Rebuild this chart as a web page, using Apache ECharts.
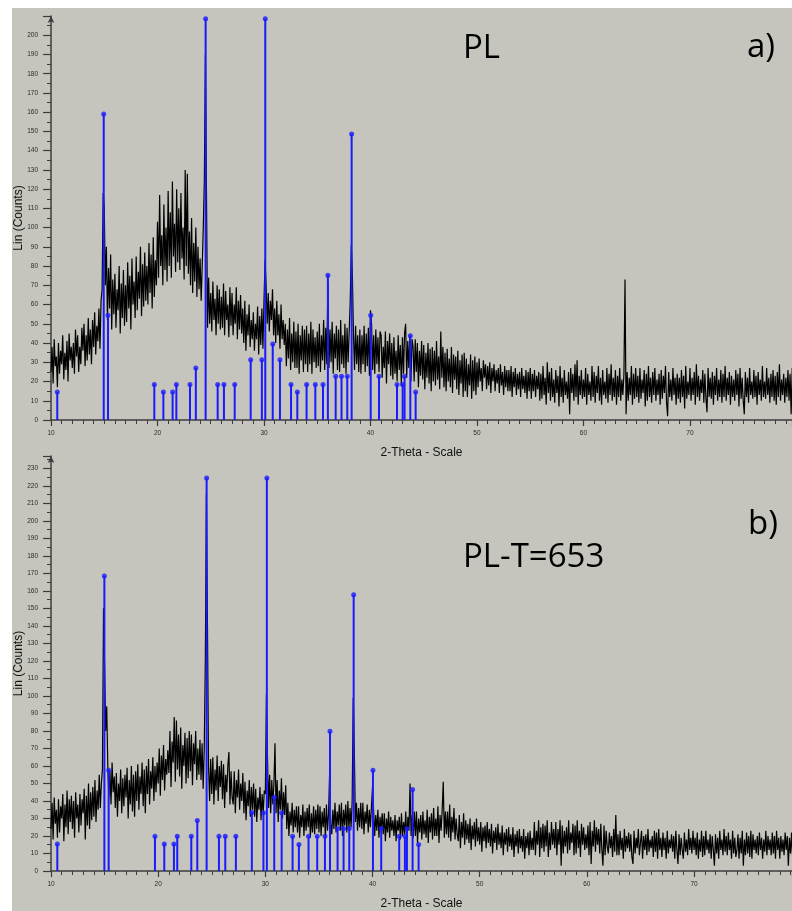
<!DOCTYPE html>
<html>
<head>
<meta charset="utf-8">
<script src="https://cdn.jsdelivr.net/npm/echarts@6/dist/echarts.min.js"></script>
<style>
  html, body { margin: 0; padding: 0; background: #ffffff; }
  #bg { position: absolute; left: 12px; top: 8px; width: 780px; height: 903px; background: #c5c5bd; }
  #chart { position: absolute; left: 0; top: 0; width: 792px; height: 911px; }
</style>
</head>
<body>
<div id="bg"></div>
<div id="chart"></div>
<script>
// Measurement grid (2-Theta start and step size of the scan)
const twoThetaStart = 10;
const twoThetaStep = 0.1;

// Panel a) PL : measured counts, one row per degree (x.0 ... x.9)
const countsA = [
  25,38,19,42,28,33,17,40,24,36,
  29,44,21,35,26,41,20,45,31,38,
  27,40,24,47,33,44,25,38,29,48,
  36,50,28,44,31,53,34,47,29,52,
  38,56,34,49,41,58,37,62,68,118,
  111,70,90,52,79,58,86,47,73,55,
  76,48,68,57,80,45,71,53,78,49,
  70,51,82,58,75,47,84,60,72,53,
  85,57,77,63,90,54,81,59,87,62,
  80,60,92,66,86,58,95,64,83,70,
  103,74,117,80,96,70,112,78,100,72,
  119,80,108,74,124,85,102,77,120,82,
  110,78,118,84,100,73,130,80,128,76,
  98,70,105,66,92,72,100,64,90,68,
  84,62,80,100,125,190,118,48,74,50,
  66,46,72,52,63,44,70,50,68,47,
  64,48,71,44,67,52,60,43,69,49,
  66,44,60,50,69,42,62,47,65,45,
  58,40,62,36,55,44,60,38,52,42,
  56,36,50,42,59,34,54,39,58,37,
  62,83,70,50,66,46,62,52,68,44,
  58,40,62,44,55,37,60,42,52,39,
  50,28,47,32,53,26,45,30,51,27,
  46,27,50,24,44,31,49,25,47,29,
  49,25,45,29,51,24,47,30,43,27,
  46,28,50,25,44,31,52,26,48,29,
  72,27,47,30,51,24,45,32,49,26,
  47,25,52,29,44,27,50,24,48,30,
  46,62,91,75,45,26,49,29,44,25,
  47,24,44,29,49,25,45,28,48,23,
  57,50,26,44,24,47,29,43,25,46,
  44,22,38,27,46,19,41,29,45,23,
  40,21,43,24,36,20,44,26,39,18,
  43,24,45,50,22,41,27,44,20,42,
  38,20,42,25,40,17,36,23,41,21,
  39,16,35,22,40,19,37,15,38,20,
  36,18,41,21,33,16,46,22,38,17,
  35,15,37,20,32,17,38,14,34,21,
  33,16,36,13,31,19,34,12,35,15,
  32,12,29,18,34,11,31,15,33,13,
  30,17,32,20,27,15,31,22,29,16,
  28,18,30,14,27,20,29,15,26,19,
  27,14,29,18,25,13,28,17,26,15,
  26,15,28,12,25,17,27,13,24,16,
  25,12,27,16,23,14,26,11,25,15,
  27,11,24,15,26,12,23,16,25,10,
  24,11,28,13,22,8,30,14,25,10,
  27,12,21,9,26,14,23,7,28,12,
  22,9,26,13,20,11,25,3,27,14,
  24,10,29,12,31,8,23,13,26,11,
  21,12,27,8,24,13,20,10,28,12,
  25,9,23,14,28,10,22,8,26,13,
  20,11,27,9,24,13,29,10,22,12,
  26,8,23,12,27,10,21,13,24,73,
  3,25,10,22,13,28,8,24,11,27,
  12,23,9,27,11,21,14,26,7,24,
  10,28,12,22,9,25,13,27,10,21,
  13,24,8,26,11,23,14,28,9,2,
  25,12,21,10,27,13,22,8,24,11,
  22,9,26,12,23,6,28,11,20,13,
  27,10,22,13,25,8,29,12,23,10,
  21,14,26,9,24,11,4,27,12,22,
  11,25,8,23,13,27,10,21,12,26,
  9,24,12,28,10,22,13,25,8,23,
  12,21,10,26,13,24,7,27,11,22,
  10,3,25,12,22,9,27,13,20,11,
  26,12,23,8,25,13,21,10,28,12,
  20,11,27,13,22,9,24,12,26,10,
  23,8,25,12,29,10,21,13,24,9,
  22,12,26,10,24,3,27,11,21,13
];

// Panel b) PL-T=653 : measured counts
const countsB = [
  24,39,18,42,27,35,19,41,22,37,
  30,44,17,38,25,46,21,41,28,43,
  24,40,19,45,30,38,22,44,26,41,
  33,47,18,43,26,50,24,45,29,48,
  31,52,28,46,35,55,36,50,58,150,
  118,80,94,60,42,57,38,62,45,54,
  36,56,31,50,40,58,33,53,37,55,
  42,59,30,52,38,60,34,55,31,57,
  40,61,35,54,44,62,37,58,33,60,
  44,64,38,57,47,65,40,60,45,62,
  50,70,43,66,52,72,46,64,55,69,
  56,80,48,74,62,88,51,86,58,78,
  54,82,47,72,60,79,50,76,53,80,
  57,78,49,73,61,80,52,70,55,75,
  52,73,47,70,120,215,140,60,40,64,
  44,65,38,58,46,66,40,60,48,63,
  41,61,36,55,45,60,68,38,57,42,
  38,57,33,52,42,58,35,50,40,56,
  33,51,29,46,37,52,31,48,35,50,
  31,47,28,42,35,48,29,44,33,46,
  44,101,65,36,55,33,52,38,50,73,
  33,52,28,46,35,53,30,45,32,49,
  24,39,20,34,26,39,22,35,25,37,
  22,37,19,32,25,38,20,34,23,36,
  25,38,19,33,22,37,21,35,24,38,
  22,37,20,34,25,36,19,38,23,33,
  57,27,21,35,24,39,22,34,26,38,
  23,39,20,35,26,38,22,40,24,36,
  25,40,99,70,28,39,23,36,25,39,
  24,39,21,34,27,38,22,35,25,37,
  48,35,20,32,23,35,19,31,24,33,
  21,33,17,30,22,34,19,31,23,29,
  20,32,17,29,23,31,18,33,20,28,
  21,34,17,31,23,50,20,32,19,34,
  20,34,16,30,22,32,18,34,21,29,
  19,35,16,31,22,33,18,36,20,30,
  20,37,16,32,23,35,51,19,34,21,
  34,19,38,17,31,22,36,18,30,21,
  17,32,13,28,19,33,15,29,18,27,
  16,30,12,26,18,28,14,30,17,25,
  15,28,11,25,17,26,13,28,16,24,
  14,27,10,23,16,25,12,27,15,22,
  13,26,9,22,15,24,11,25,14,21,
  12,25,8,21,14,23,10,24,13,20,
  11,24,7,20,13,22,9,23,12,19,
  12,28,9,23,15,29,8,25,13,27,
  11,26,14,29,8,22,12,28,15,24,
  13,28,9,24,15,29,3,26,10,23,
  14,25,10,29,12,22,16,27,9,26,
  10,29,13,23,8,27,15,25,12,21,
  13,26,9,28,4,23,14,29,11,25,
  15,24,10,27,12,3,26,9,23,14,
  10,22,13,20,8,24,11,32,9,21,
  9,23,12,19,7,24,11,20,13,22,
  11,21,8,4,23,10,19,13,24,9,
  10,23,7,20,12,21,9,24,11,18,
  13,20,8,23,11,22,7,24,12,19,
  8,22,12,19,7,23,10,18,13,21,
  11,20,7,23,12,4,21,9,19,12,
  7,22,11,18,9,24,12,19,10,23,
  12,19,9,22,7,18,11,23,8,20,
  9,23,12,18,10,21,7,20,12,3,
  21,10,19,7,23,12,18,9,24,11,
  20,9,22,12,18,7,23,10,19,8,
  12,21,7,19,10,23,3,18,9,22,
  10,20,8,23,7,21,12,18,10,20,
  9,22,12,19,7,18,11,23,9,20,
  12,18,9,22,10,20,7,23,12,19,
  7,20,11,18,9,22,12,20,3,19,
  10,22,7,19,12,18,9,23,10,20
];

// Reference pattern sticks (2-Theta position, intensity)
const refPosA = [10.59,14.95,15.35,19.7,20.55,21.42,21.77,23.05,23.6,24.52,25.65,26.24,27.25,28.75,29.8,30.12,30.82,31.5,32.54,33.13,34.0,34.82,35.54,36.0,36.73,37.28,37.82,38.23,40.02,40.8,42.49,43.02,43.2,43.74,44.24];
const refIntA = [14.5,159,54.5,18.5,14.5,14.5,18.5,18.5,27,208.6,18.5,18.5,18.5,31.3,31.3,208.6,39.5,31.3,18.5,14.5,18.5,18.5,18.5,75.3,22.7,22.7,22.7,148.6,54.5,22.7,18.5,18.5,22.7,43.8,14.5];
const refPosB = [10.59,14.98,15.38,19.7,20.57,21.47,21.78,23.09,23.65,24.52,25.67,26.26,27.25,28.74,29.82,30.14,30.83,31.52,32.54,33.13,34.03,34.84,35.56,36.03,36.74,37.3,37.83,38.24,40.04,40.81,42.49,43.02,43.21,43.74,44.3];
const refIntB = [15.4,168.5,57.5,19.8,15.4,15.4,19.8,19.8,28.8,224.4,19.8,19.8,19.8,33.4,33.3,224.4,42.1,33.2,19.8,15.2,19.8,19.8,19.8,79.8,24.2,24.2,24.2,157.7,57.5,24.2,19.8,19.8,24.2,46.5,15.2];

// Axis settings
const xMin = 10, xInterval = 10;
const xMaxA = 79.58, xMaxB = 79.14;
const yInterval = 10;
const yMaxA = 210, yMaxB = 237;

function toXY(arr) {
  return arr.map((v, i) => [+(twoThetaStart + i * twoThetaStep).toFixed(2), v]);
}
function sticks(pos, inten) {
  return pos.map((p, i) => [p, inten[i]]);
}

const blue = '#1a1aff';
const axisColor = '#3c3c3c';
const labelColor = '#2a2a2a';

function xAxisCfg(gridIndex, max) {
  return {
    type: 'value', gridIndex, min: xMin, max, interval: xInterval,
    name: '2-Theta - Scale', nameLocation: 'middle', nameGap: 27, nameMoveOverlap: false,
    nameTextStyle: { fontFamily: 'Liberation Sans, Arial', fontSize: 12, color: '#111' },
    axisLine: { lineStyle: { color: axisColor, width: 1.5 } },
    axisTick: { length: 6, lineStyle: { color: axisColor, width: 1.2 } },
    minorTick: { show: true, splitNumber: 10, length: 4, lineStyle: { color: axisColor, width: 1 } },
    axisLabel: { fontFamily: 'Liberation Sans, Arial', fontSize: 6.5, color: labelColor, margin: 10, showMaxLabel: false },
    splitLine: { show: false }
  };
}
function yAxisCfg(gridIndex, max) {
  return {
    type: 'value', gridIndex, min: 0, max, interval: yInterval,
    name: 'Lin (Counts)', nameLocation: 'middle', nameGap: 26, nameRotate: 90, nameMoveOverlap: false,
    nameTextStyle: { fontFamily: 'Liberation Sans, Arial', fontSize: 12, color: '#111' },
    axisLine: { show: true, symbol: ['none', 'arrow'], symbolSize: [5, 7], lineStyle: { color: axisColor, width: 1.5 } },
    axisTick: { show: true, length: 8, lineStyle: { color: axisColor, width: 1.2 } },
    minorTick: { show: true, splitNumber: 2, length: 4, lineStyle: { color: axisColor, width: 1 } },
    axisLabel: { fontFamily: 'Liberation Sans, Arial', fontSize: 6.5, color: labelColor, margin: 13, showMaxLabel: false },
    splitLine: { show: false }
  };
}
function lineSeries(idx, data) {
  return {
    type: 'line', xAxisIndex: idx, yAxisIndex: idx, data: toXY(data),
    showSymbol: false, symbol: 'none', animation: false, clip: true,
    lineStyle: { color: '#000', width: 1.2 }, z: 2
  };
}
function stickSeries(idx, pos, inten) {
  return {
    type: 'bar', xAxisIndex: idx, yAxisIndex: idx, data: sticks(pos, inten),
    barWidth: 2, itemStyle: { color: blue }, animation: false, z: 3
  };
}
function dotSeries(idx, pos, inten) {
  return {
    type: 'scatter', xAxisIndex: idx, yAxisIndex: idx, data: sticks(pos, inten),
    symbol: 'circle', symbolSize: 5, itemStyle: { color: blue }, animation: false, z: 4
  };
}

const labelFont = '33px "Open Sans"';
const chart = echarts.init(document.getElementById('chart'), null, { renderer: 'canvas' });
chart.setOption({
  backgroundColor: 'transparent',
  animation: false,
  grid: [
    { left: 51, top: 16, right: 0, height: 404 },
    { left: 51, top: 456, right: 0, height: 415 }
  ],
  xAxis: [xAxisCfg(0, xMaxA), xAxisCfg(1, xMaxB)],
  yAxis: [yAxisCfg(0, yMaxA), yAxisCfg(1, yMaxB)],
  graphic: [
    { type: 'text', left: 463, top: 32, style: { text: 'PL', font: labelFont, fill: '#000' } },
    { type: 'text', left: 747, top: 31, style: { text: 'a)', font: labelFont, fill: '#000' } },
    { type: 'text', left: 463, top: 541, style: { text: 'PL-T=653', font: labelFont, fill: '#000' } },
    { type: 'text', left: 748, top: 508, style: { text: 'b)', font: labelFont, fill: '#000' } }
  ],
  series: [
    lineSeries(0, countsA), stickSeries(0, refPosA, refIntA), dotSeries(0, refPosA, refIntA),
    lineSeries(1, countsB), stickSeries(1, refPosB, refIntB), dotSeries(1, refPosB, refIntB)
  ]
});
</script>
</body>
</html>
